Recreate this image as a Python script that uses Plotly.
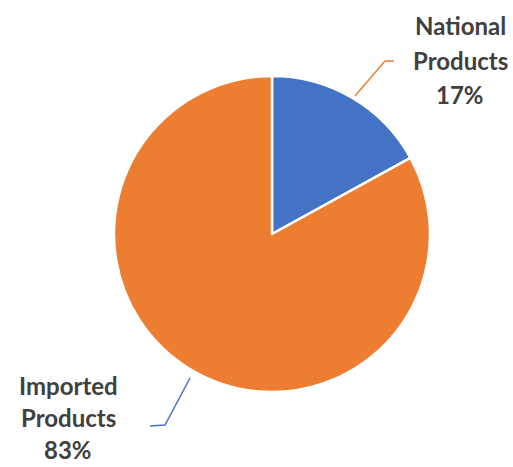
import plotly.graph_objects as go

labels = ["National Products", "Imported Products"]
values = [17, 83]
colors = ["#4472C4", "#ED7D31"]
label_lines = [["National", "Products", "17%"], ["Imported", "Products", "83%"]]

W, H = 513, 467
cx, cy, r = 272, 234, 158

fig = go.Figure(go.Pie(
    labels=labels, values=values, sort=False, direction="clockwise", rotation=0,
    marker=dict(colors=colors, line=dict(color="white", width=2.5)),
    textinfo="none", hoverinfo="label+percent",
    domain=dict(x=[(cx - r) / W, (cx + r) / W], y=[(H - cy - r) / H, (H - cy + r) / H]),
))

def px(x, y):
    return x / W, 1 - y / H

fnt = dict(family="Lato, Open Sans, sans-serif", size=24, color="#404040")
label_pos = [(460, [26, 61, 95]), (68, [385, 417, 449])]
for lines, (lx, ys) in zip(label_lines, label_pos):
    for t, y in zip(lines, ys):
        fig.add_annotation(x=lx / W, y=1 - y / H, xref="paper", yref="paper", text="<b>" + t + "</b>",
                           showarrow=False, font=fnt, align="center", xanchor="center", yanchor="middle",
                           borderpad=0)

# leader lines
def path(pts):
    s = ""
    for i, (x, y) in enumerate(pts):
        X, Y = px(x, y)
        s += ("M" if i == 0 else " L") + f" {X} {Y}"
    return s

fig.add_shape(type="path", xref="paper", yref="paper", path=path([(355, 96), (385, 61), (394, 61)]),
              line=dict(color="#ED7D31", width=1.5))
fig.add_shape(type="path", xref="paper", yref="paper", path=path([(190, 378), (165, 425), (150, 426)]),
              line=dict(color="#4472C4", width=1.5))

fig.update_layout(width=W, height=H, margin=dict(l=0, r=0, t=0, b=0), showlegend=False,
                  paper_bgcolor="white", plot_bgcolor="white")
fig.write_html("out.html")
